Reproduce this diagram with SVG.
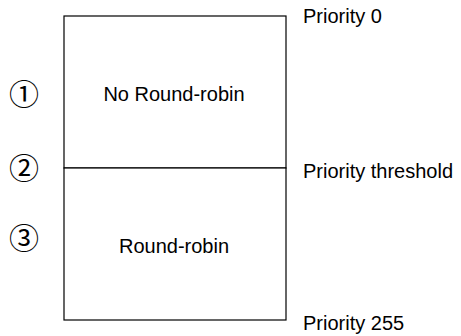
<svg xmlns="http://www.w3.org/2000/svg" width="461" height="336" viewBox="0 0 461 336">
<style>
.t{font-family:"Liberation Sans",Arial,sans-serif;font-size:20px;fill:#000}
.c{font-family:"Noto Sans CJK JP","DejaVu Sans",sans-serif;font-size:30px;fill:#000}
.box{fill:#fff;stroke:#000;stroke-width:1.2}
</style>
<rect width="461" height="336" fill="#fff"/>
<g id="no-round-robin">
<rect class="box" x="64" y="16" width="222" height="152"/>
<text class="t" x="174" y="101" text-anchor="middle">No Round-robin</text>
</g>
<g id="round-robin">
<rect class="box" x="64" y="168" width="222" height="152"/>
<text class="t" x="174" y="253" text-anchor="middle">Round-robin</text>
</g>
<g id="labels">
<text class="t" x="303" y="23">Priority 0</text>
<text class="t" x="303" y="178">Priority threshold</text>
<text class="t" x="303" y="330">Priority 255</text>
<text class="c" x="24" y="104.5" text-anchor="middle">①</text>
<text class="c" x="24" y="179" text-anchor="middle">②</text>
<text class="c" x="24" y="249" text-anchor="middle">③</text>
</g>
</svg>
